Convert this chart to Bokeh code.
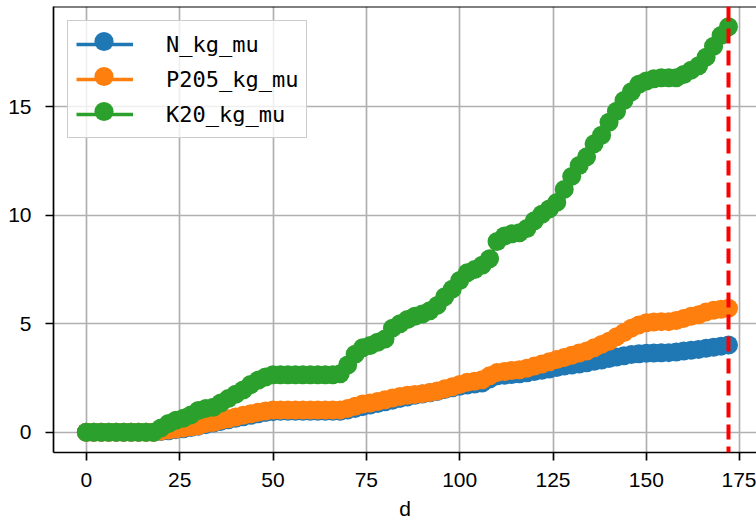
from bokeh.plotting import figure
from bokeh.models import Range1d, Span, Legend, LegendItem, FixedTicker
from bokeh.embed import file_html
from bokeh.resources import INLINE

days = list(range(0, 173, 2))

n_kg_mu = [0, 0, 0, 0, 0, 0, 0, 0, 0, 0,
           0.03, 0.07, 0.12, 0.16, 0.22, 0.28, 0.35, 0.42, 0.50, 0.57,
           0.64, 0.71, 0.78, 0.85, 0.91, 0.95, 0.97, 0.97, 0.97, 0.97,
           0.97, 0.97, 0.97, 0.97, 0.97, 1.03, 1.10, 1.18, 1.25, 1.32,
           1.40, 1.48, 1.56, 1.63, 1.70, 1.76, 1.82, 1.88, 1.97, 2.05,
           2.12, 2.18, 2.22, 2.27, 2.45, 2.60, 2.63, 2.66, 2.70, 2.74,
           2.80, 2.86, 2.92, 2.98, 3.05, 3.10, 3.15, 3.20, 3.27, 3.33,
           3.40, 3.47, 3.53, 3.58, 3.62, 3.64, 3.65, 3.66, 3.67, 3.70,
           3.75, 3.78, 3.82, 3.87, 3.92, 3.97, 4.02]

p2o5_kg_mu = [0, 0, 0, 0, 0, 0, 0, 0, 0, 0,
              0.05, 0.10, 0.15, 0.20, 0.25, 0.30, 0.40, 0.45, 0.55, 0.62,
              0.70, 0.78, 0.85, 0.92, 0.98, 1.02, 1.03, 1.03, 1.03, 1.03,
              1.03, 1.03, 1.03, 1.03, 1.03, 1.10, 1.20, 1.30, 1.35, 1.42,
              1.50, 1.58, 1.65, 1.70, 1.74, 1.78, 1.83, 1.90, 2.00, 2.10,
              2.20, 2.30, 2.35, 2.42, 2.60, 2.75, 2.80, 2.85, 2.88, 2.95,
              3.05, 3.15, 3.25, 3.35, 3.45, 3.55, 3.65, 3.75, 3.90, 4.05,
              4.20, 4.40, 4.60, 4.80, 4.95, 5.05, 5.08, 5.10, 5.10, 5.15,
              5.25, 5.35, 5.42, 5.55, 5.62, 5.67, 5.72]

k2o_kg_mu = [0, 0, 0, 0, 0, 0, 0, 0, 0, 0,
             0.20, 0.40, 0.55, 0.65, 0.80, 1.00, 1.10, 1.15, 1.35, 1.55,
             1.75, 1.95, 2.20, 2.40, 2.55, 2.65, 2.65, 2.65, 2.65, 2.65,
             2.65, 2.65, 2.65, 2.65, 2.70, 3.10, 3.60, 3.90, 4.00, 4.15,
             4.30, 4.80, 5.00, 5.20, 5.35, 5.45, 5.60, 5.85, 6.25, 6.60,
             7.00, 7.35, 7.50, 7.70, 8.00, 8.80, 9.05, 9.15, 9.20, 9.40,
             9.75, 10.05, 10.30, 10.60, 11.20, 11.80, 12.30, 12.70, 13.30, 13.70,
             14.30, 14.80, 15.30, 15.70, 16.05, 16.20, 16.30, 16.35, 16.35, 16.35,
             16.50, 16.70, 16.90, 17.30, 17.80, 18.30, 18.70]

series_names = ["N_kg_mu", "P205_kg_mu", "K20_kg_mu"]
series_values = [n_kg_mu, p2o5_kg_mu, k2o_kg_mu]
series_colors = ["#1f77b4", "#ff7f0e", "#2ca02c"]
x_ticks = [0, 25, 50, 75, 100, 125, 150, 175]
y_ticks = [0, 5, 10, 15]
x_label = "d"

TICK_FONT = "Liberation Sans"
LEG_FONT = "DejaVu Sans Mono"

ymin = min(min(s) for s in series_values)
ymax = max(max(s) for s in series_values)
ypad = 0.05 * (ymax - ymin)

p = figure(width=756, height=522, output_backend="svg", toolbar_location=None,
           x_range=Range1d(-8.8, 179.5),
           y_range=Range1d(ymin - ypad, ymax + ypad),
           min_border_left=53, min_border_right=0, min_border_top=6,
           min_border_bottom=70)

p.outline_line_color = None
p.background_fill_color = "white"
p.border_fill_color = "white"

for ax in (p.xaxis[0], p.yaxis[0]):
    ax.axis_line_width = 1.7
    ax.axis_line_color = "black"
    ax.major_tick_line_width = 1.7
    ax.major_tick_line_color = "black"
    ax.major_tick_out = 8
    ax.major_tick_in = 0
    ax.minor_tick_out = 0
    ax.minor_tick_in = 0
    ax.major_label_text_font = TICK_FONT
    ax.major_label_text_font_size = "21px"
    ax.major_label_text_color = "black"

p.xaxis.ticker = FixedTicker(ticks=x_ticks)
p.yaxis.ticker = FixedTicker(ticks=y_ticks)
p.xaxis.major_label_standoff = 12
p.yaxis.major_label_standoff = 14
p.xaxis.axis_label = x_label
p.xaxis.axis_label_text_font = TICK_FONT
p.xaxis.axis_label_text_font_size = "21px"
p.xaxis.axis_label_text_font_style = "normal"
p.xaxis.axis_label_text_color = "black"
p.xaxis.axis_label_standoff = 7

p.grid.grid_line_color = "#b0b0b0"
p.grid.grid_line_width = 1.7

line_items = []
marker_renderers = []
for name, vals, col in zip(series_names, series_values, series_colors):
    rl = p.line(days, vals, line_color=col, line_width=3.5)
    rs = p.scatter(days, vals, size=19, fill_color=col, line_color=col, line_width=0)
    line_items.append(LegendItem(label=name, renderers=[rl]))
    marker_renderers.append(rs)

top_border = Span(location=ymax + ypad, dimension="width", line_color="black", line_width=2)
p.add_layout(top_border)

vline = Span(location=days[-1], dimension="height", line_color="red", line_width=4, line_dash="15 7")
p.add_layout(vline)

legend = Legend(items=line_items, location="top_left", margin=14, padding=8, spacing=5,
                glyph_width=57, glyph_height=30, label_standoff=33,
                label_text_font=LEG_FONT, label_text_font_size="22px",
                label_text_color="black",
                border_line_color="#cccccc", border_line_width=1.5, border_line_alpha=1.0,
                background_fill_alpha=0.8)
p.add_layout(legend, "center")

# larger legend markers (one single-item legend per series, no box)
for i, rs in enumerate(marker_renderers):
    ml = Legend(items=[LegendItem(label=" ", renderers=[rs])],
                location=(22, 387 - 35 * i), margin=0, padding=0, spacing=0,
                glyph_width=57, glyph_height=48, label_standoff=0,
                label_text_font_size="1px",
                border_line_color=None, background_fill_alpha=0.0)
    p.add_layout(ml, "center")

open("out.html", "w").write(file_html(p, INLINE))
